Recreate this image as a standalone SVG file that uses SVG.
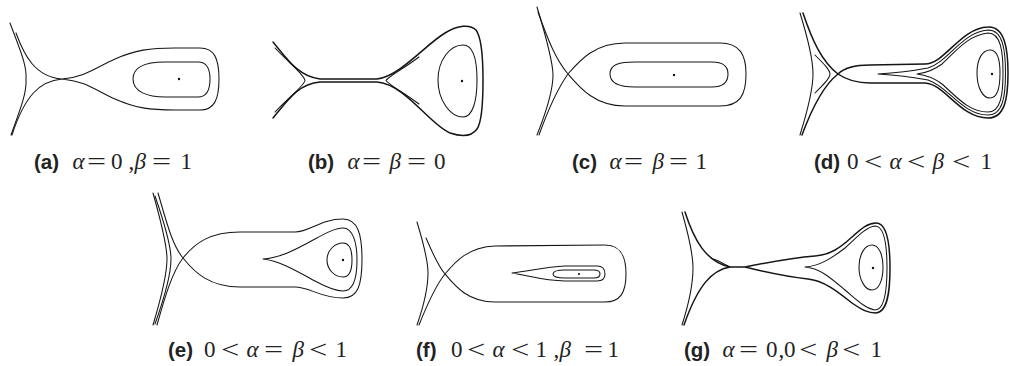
<svg xmlns="http://www.w3.org/2000/svg" width="1009" height="366" viewBox="0 0 1009 366">
<style>
.c{fill:none;stroke:#151515;stroke-width:1.05;stroke-linecap:round;stroke-linejoin:round}
.k{stroke-width:1.5}
.dot{fill:#111}
.lbl{font-family:"Liberation Sans",Arial,sans-serif;font-weight:bold;font-size:20.5px;fill:#222}
.m{font-family:"Liberation Serif","Times New Roman",serif;font-size:23px;fill:#222}
.i{font-style:italic}
.eq{font-size:25px}
.lt{font-size:26px}
</style>
<rect width="1009" height="366" fill="#fff"/>

<g id="panel-a">
<path class="c" d="M10,23 C20,50 27,65 26,79 C27,93 20,110 11,135"/>
<path class="c" d="M16,33 C24,55 35,77 62,79 C85,81 95,90 115,99 C135,108 150,110 175,110 L200,110 C214,110 219,100 219,79 C219,58 214,48 200,48 L175,48 C150,48 135,50 115,59 C95,68 85,77 62,79 C40,81 25,95 12,135"/>
<path class="c" d="M133,79 C133,66 148,62 165,62 L198,62 C207,62 210,70 210,79 C210,89 207,97 198,97 L165,97 C148,97 133,92 133,79 Z"/>
<circle class="dot" cx="179" cy="79" r="1.2"/>
</g>

<g id="panel-b">
<path class="c k" d="M273,42 C288,60 298,76 320,79 L377,79 C400,76 425,45 445,33 C458,25 470,24 476,30 C482,38 483,60 483,80 C483,102 482,122 477,129 C472,136 462,137 450,133 C430,125 405,84 377,82 L320,82 C298,84 288,100 273,118"/>
<path class="c" d="M275,48 C290,64 304,74 305,80.5 C304,86 290,96 275,112"/>
<path class="c" d="M419,57 C403,69 389,76 386,80.5 C389,85 403,92 419,104"/>
<path class="c" d="M438,80 C438,60 450,45 463,45 C473,45 477,60 477,80 C477,100 473,117 463,117 C450,117 438,100 438,80 Z"/>
<circle class="dot" cx="462" cy="81" r="1.2"/>
</g>

<g id="panel-c">
<path class="c" d="M537,7 C547,40 553,62 553,75 C553,88 547,110 537,135"/>
<path class="c" d="M538,12 C548,40 556,60 568,74 C580,88 595,106 625,106 L720,106 C740,106 746,95 746,74 C746,55 740,43 720,43 L625,43 C595,43 580,60 568,74 C558,88 548,110 539,135"/>
<path class="c" d="M610,74 C610,64 620,62 635,62 L712,62 C724,62 728,67 728,74 C728,82 724,87 712,87 L635,87 C620,87 610,84 610,74 Z"/>
<circle class="dot" cx="674" cy="75" r="1.2"/>
</g>

<g id="panel-d">
<path class="c" d="M800,13 C809,42 813,62 813,74 C813,86 809,106 800,135"/>
<path class="c k" d="M803,13 C812,40 822,62 838,74 C848,81 858,83 870,83 L925,83 C945,84 960,118 988,118 C1005,118 1008,98 1008,73 C1008,50 1005,26 988,27 C960,28 945,64 925,64 L870,65 C855,65 845,67 838,74 C824,85 812,108 802,135"/>
<path class="c" d="M815,55 C824,64 830,70 830,74 C830,78 824,84 815,93"/>
<path class="c" d="M878,74 C895,73 912,71 928,68 C948,62 962,32 988,30 C1003,30 1005.5,50 1005.5,73 C1005.5,96 1003,115 988,115 C962,115 948,86 928,80 C912,77 895,75 878,74 Z"/>
<path class="c" d="M917,74 C926,73 934,70 942,64 C955,52 968,35 988,33 C1001,33 1003,52 1003,73 C1003,94 1001,112 988,112 C968,112 955,95 942,84 C934,78 926,75 917,74 Z"/>
<path class="c" d="M977,73 C977,58 983,50 990,50 C997,50 1000,60 1000,73 C1000,88 997,98 990,98 C983,98 977,88 977,73 Z"/>
<circle class="dot" cx="992" cy="74" r="1.2"/>
</g>

<g id="panel-e">
<path class="c" d="M153,193 C162,225 167,248 167,259 C167,272 162,295 153,325"/>
<path class="c" d="M155,196 C164,222 171,248 171,259 C171,271 165,296 155,324"/>
<path class="c" d="M158,193 C166,220 172,245 183,258 C195,273 210,287 240,287 L295,287 C310,287 320,298 343,298 C358,298 362,285 362,259 C362,235 358,219 343,219 C320,219 310,232 295,232 L240,232 C210,232 195,243 183,258 C172,272 164,300 157,325"/>
<path class="c" d="M263,259 C280,258 295,250 315,239 C328,232 336,228 343,228 C353,228 357,243 357,260 C357,278 353,291 343,291 C336,291 328,288 315,281 C295,270 280,261 263,259 Z"/>
<path class="c" d="M327,260 C327,250 335,243 343,243 C349,243 352,250 352,260 C352,270 349,277 343,277 C335,277 327,270 327,260 Z"/>
<circle class="dot" cx="343" cy="260" r="1.2"/>
</g>

<g id="panel-f">
<path class="c" d="M417,222 C424,245 428,262 428,273 C428,285 424,305 417,325"/>
<path class="c" d="M426,238 C432,252 438,266 445,274 C455,286 468,302 495,302 L605,302 C620,302 626,293 626,274 C626,255 620,245 605,245 L495,246 C468,247 455,262 445,274 C436,285 427,305 419,325"/>
<path class="c" d="M512,273 C530,271 545,267 565,266 L597,266 C603,266 605,270 605,274 C605,278 603,281 597,281 L565,281 C545,281 530,276 512,273 Z"/>
<path class="c" d="M553,274 C553,271 558,270 565,270 L594,270 C598,270 600,272 600,274 C600,276.5 598,278 594,278 L565,278 C558,278 553,277 553,274 Z"/>
<circle class="dot" cx="579" cy="274" r="1.1"/>
</g>

<g id="panel-g">
<path class="c" d="M682,212 C690,240 693,258 693,268 C693,280 690,300 682,325"/>
<path class="c k" d="M685,212 C694,240 706,262 730,267 L745,267 C765,272 790,277 808,279 C825,281 838,292 852,303 C862,310 868,313 876,313 C888,312 890,290 890,268 C890,246 888,223 876,223 C868,223 862,228 852,237 C840,248 830,255 815,256 C790,258 765,263 745,267 L730,267 C712,270 698,285 684,325"/>
<path class="c" d="M713,259 C720,261 725,265 730,267"/>
<path class="c" d="M805,267 C820,266 832,258 845,248 C857,237 866,227 875,226 C885,226 887,248 887,268 C887,290 885,310 875,310 C866,309 857,300 845,290 C832,279 820,268 805,267 Z"/>
<path class="c" d="M859,267 C859,254 865,245 872,245 C879,245 883,255 883,267 C883,280 879,290 872,290 C865,290 859,280 859,267 Z"/>
<circle class="dot" cx="873" cy="268" r="1.2"/>
</g>

<g id="captions">
<g id="cap-a">
<text class="lbl" x="34" y="169">(a)</text>
<text class="m"><tspan class="i" x="72.5" y="169">α</tspan><tspan x="111" y="169">0</tspan><tspan x="128.5" y="169">,</tspan><tspan class="i" x="134.5" y="169">β</tspan><tspan x="180.5" y="169">1</tspan></text>
<text class="m eq" transform="translate(87,170) scale(1.35,1)">=</text>
<text class="m eq" transform="translate(152,170) scale(1.35,1)">=</text>
</g>
<g id="cap-b">
<text class="lbl" x="308" y="169">(b)</text>
<text class="m"><tspan class="i" x="347.5" y="169">α</tspan><tspan class="i" x="389.5" y="169">β</tspan><tspan x="434" y="169">0</tspan></text>
<text class="m eq" transform="translate(362,170) scale(1.35,1)">=</text>
<text class="m eq" transform="translate(407,170) scale(1.35,1)">=</text>
</g>
<g id="cap-c">
<text class="lbl" x="572" y="169">(c)</text>
<text class="m"><tspan class="i" x="609.5" y="169">α</tspan><tspan class="i" x="652.5" y="169">β</tspan><tspan x="695.5" y="169">1</tspan></text>
<text class="m eq" transform="translate(624,170) scale(1.35,1)">=</text>
<text class="m eq" transform="translate(669,170) scale(1.35,1)">=</text>
</g>
<g id="cap-d">
<text class="lbl" x="814" y="169">(d)</text>
<text class="m"><tspan x="847" y="169">0</tspan><tspan class="i" x="889.5" y="169">α</tspan><tspan class="i" x="932.5" y="169">β</tspan><tspan x="980.5" y="169">1</tspan></text>
<text class="m lt" transform="translate(864,170) scale(1.25,1)">&lt;</text>
<text class="m lt" transform="translate(907,170) scale(1.25,1)">&lt;</text>
<text class="m lt" transform="translate(952,170) scale(1.25,1)">&lt;</text>
</g>
<g id="cap-e">
<text class="lbl" x="168" y="357">(e)</text>
<text class="m"><tspan x="204" y="357">0</tspan><tspan class="i" x="246.5" y="357">α</tspan><tspan class="i" x="292.5" y="357">β</tspan><tspan x="335.5" y="357">1</tspan></text>
<text class="m lt" transform="translate(221,358) scale(1.25,1)">&lt;</text>
<text class="m eq" transform="translate(264,358) scale(1.35,1)">=</text>
<text class="m lt" transform="translate(309,358) scale(1.25,1)">&lt;</text>
</g>
<g id="cap-f">
<text class="lbl" x="416" y="357">(f)</text>
<text class="m"><tspan x="451" y="357">0</tspan><tspan class="i" x="492.5" y="357">α</tspan><tspan x="535.5" y="357">1</tspan><tspan x="553.5" y="357">,</tspan><tspan class="i" x="559.5" y="357">β</tspan><tspan x="607.5" y="357">1</tspan></text>
<text class="m lt" transform="translate(467,358) scale(1.25,1)">&lt;</text>
<text class="m lt" transform="translate(511,358) scale(1.25,1)">&lt;</text>
<text class="m eq" transform="translate(584,358) scale(1.35,1)">=</text>
</g>
<g id="cap-g">
<text class="lbl" x="684" y="357">(g)</text>
<text class="m"><tspan class="i" x="722.5" y="357">α</tspan><tspan x="766" y="357">0</tspan><tspan x="778.5" y="357">,</tspan><tspan x="784" y="357">0</tspan><tspan class="i" x="826.5" y="357">β</tspan><tspan x="870.5" y="357">1</tspan></text>
<text class="m eq" transform="translate(739,358) scale(1.35,1)">=</text>
<text class="m lt" transform="translate(799,358) scale(1.25,1)">&lt;</text>
<text class="m lt" transform="translate(842,358) scale(1.25,1)">&lt;</text>
</g>
</g>
</svg>
